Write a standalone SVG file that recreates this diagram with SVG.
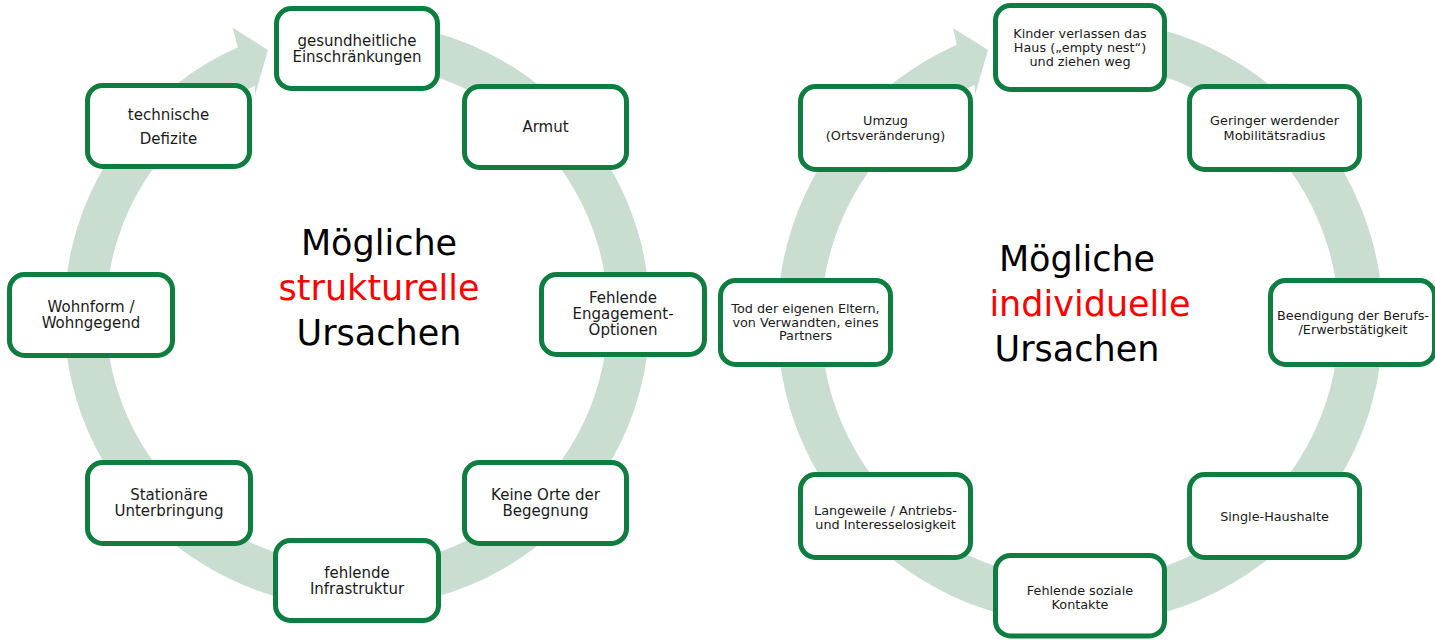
<svg xmlns="http://www.w3.org/2000/svg" width="1435" height="640" viewBox="0 0 1435 640">
  <style>
    .ring { fill: #c9ddd0; stroke: none; }
    .box { fill: #ffffff; stroke: #0f7d3f; stroke-width: 5; }
    .t1 { font-family: "DejaVu Sans", Verdana, sans-serif; font-size: 15px; fill: #1a1a1a; text-anchor: middle; }
    .t2 { font-family: "DejaVu Sans", Verdana, sans-serif; font-size: 12.8px; fill: #1a1a1a; text-anchor: middle; }
    .title { font-family: "DejaVu Sans", Verdana, sans-serif; font-size: 35px; fill: #000000; text-anchor: middle; }
    .red { fill: #ff0000; }
  </style>
  <rect width="1435" height="640" fill="#ffffff"/>

  <g id="connectors">
    <path class="ring" d="M 382.5 23.1 A 293 293 0 1 1 237.8 47.3 L 232.5 27.5 L 268 50 L 255 95 L 254.9 85.7 A 251 251 0 1 0 378.9 65 Z"/>
    <path class="ring" d="M 1106.4 19.6 A 303 303 0 1 1 956.8 44.7 L 953 28 L 988 50 L 975 95 L 974.6 84.9 A 259 259 0 1 0 1102.6 63.5 Z"/>
  </g>

  <!-- Left cycle -->
  <g id="title-left">
    <text class="title" x="379" y="255">Mögliche</text>
    <text class="title red" x="379" y="300">strukturelle</text>
    <text class="title" x="379" y="345">Ursachen</text>
  </g>
  <g id="l-gesundheit">
    <rect class="box" x="276.5" y="8.5" width="161" height="80" rx="15"/>
    <text class="t1" x="357" y="46">gesundheitliche</text>
    <text class="t1" x="357" y="62">Einschränkungen</text>
  </g>
  <g id="l-armut">
    <rect class="box" x="464.5" y="86.5" width="162" height="81" rx="15"/>
    <text class="t1" x="545.5" y="132">Armut</text>
  </g>
  <g id="l-engagement">
    <rect class="box" x="541.5" y="274.5" width="163" height="80" rx="15"/>
    <text class="t1" x="623" y="303">Fehlende</text>
    <text class="t1" x="623" y="319">Engagement-</text>
    <text class="t1" x="623" y="335">Optionen</text>
  </g>
  <g id="l-orte">
    <rect class="box" x="464.5" y="462.5" width="162" height="81" rx="15"/>
    <text class="t1" x="545.5" y="500">Keine Orte der</text>
    <text class="t1" x="545.5" y="516">Begegnung</text>
  </g>
  <g id="l-infrastruktur">
    <rect class="box" x="275.5" y="540.5" width="163" height="80" rx="15"/>
    <text class="t1" x="357" y="578">fehlende</text>
    <text class="t1" x="357" y="594">Infrastruktur</text>
  </g>
  <g id="l-stationaer">
    <rect class="box" x="87.5" y="462.5" width="163" height="81" rx="15"/>
    <text class="t1" x="169" y="500">Stationäre</text>
    <text class="t1" x="169" y="516">Unterbringung</text>
  </g>
  <g id="l-wohnform">
    <rect class="box" x="9.5" y="274.5" width="163" height="81" rx="15"/>
    <text class="t1" x="91" y="312">Wohnform /</text>
    <text class="t1" x="91" y="328">Wohngegend</text>
  </g>
  <g id="l-technik">
    <rect class="box" x="87.5" y="85.5" width="162" height="81" rx="15"/>
    <text class="t1" x="168.5" y="120">technische</text>
    <text class="t1" x="168.5" y="144">Defizite</text>
  </g>

  <!-- Right cycle -->
  <g id="title-right">
    <text class="title" x="1077" y="271">Mögliche</text>
    <text class="title red" x="1090" y="316">individuelle</text>
    <text class="title" x="1077" y="361">Ursachen</text>
  </g>
  <g id="r-kinder">
    <rect class="box" x="995.5" y="5.5" width="169" height="84" rx="15"/>
    <text class="t2" x="1080" y="38">Kinder verlassen das</text>
    <text class="t2" x="1080" y="52">Haus („empty nest“)</text>
    <text class="t2" x="1080" y="66">und ziehen weg</text>
  </g>
  <g id="r-mobilitaet">
    <rect class="box" x="1189.5" y="86.5" width="170" height="83" rx="15"/>
    <text class="t2" x="1274.5" y="125">Geringer werdender</text>
    <text class="t2" x="1274.5" y="139.5">Mobilitätsradius</text>
  </g>
  <g id="r-beruf">
    <rect class="box" x="1270.5" y="280.5" width="164" height="84" rx="15"/>
    <text class="t2" x="1353" y="319.5">Beendigung der Berufs-</text>
    <text class="t2" x="1353" y="333.5">/Erwerbstätigkeit</text>
  </g>
  <g id="r-single">
    <rect class="box" x="1189.5" y="474.5" width="170" height="83" rx="15"/>
    <text class="t2" x="1274.5" y="521">Single-Haushalte</text>
  </g>
  <g id="r-kontakte">
    <rect class="box" x="995.5" y="555.5" width="169" height="80.5" rx="15"/>
    <text class="t2" x="1080" y="595">Fehlende soziale</text>
    <text class="t2" x="1080" y="609">Kontakte</text>
  </g>
  <g id="r-langeweile">
    <rect class="box" x="800.5" y="474.5" width="170" height="83" rx="15"/>
    <text class="t2" x="885.5" y="515">Langeweile / Antriebs-</text>
    <text class="t2" x="885.5" y="528.5">und Interesselosigkeit</text>
  </g>
  <g id="r-tod">
    <rect class="box" x="720.5" y="280.5" width="170" height="84" rx="15"/>
    <text class="t2" x="805.5" y="313">Tod der eigenen Eltern,</text>
    <text class="t2" x="805.5" y="326.5">von Verwandten, eines</text>
    <text class="t2" x="805.5" y="340">Partners</text>
  </g>
  <g id="r-umzug">
    <rect class="box" x="800.5" y="86.5" width="170" height="83" rx="15"/>
    <text class="t2" x="885.5" y="125">Umzug</text>
    <text class="t2" x="885.5" y="139.5">(Ortsveränderung)</text>
  </g>
</svg>
